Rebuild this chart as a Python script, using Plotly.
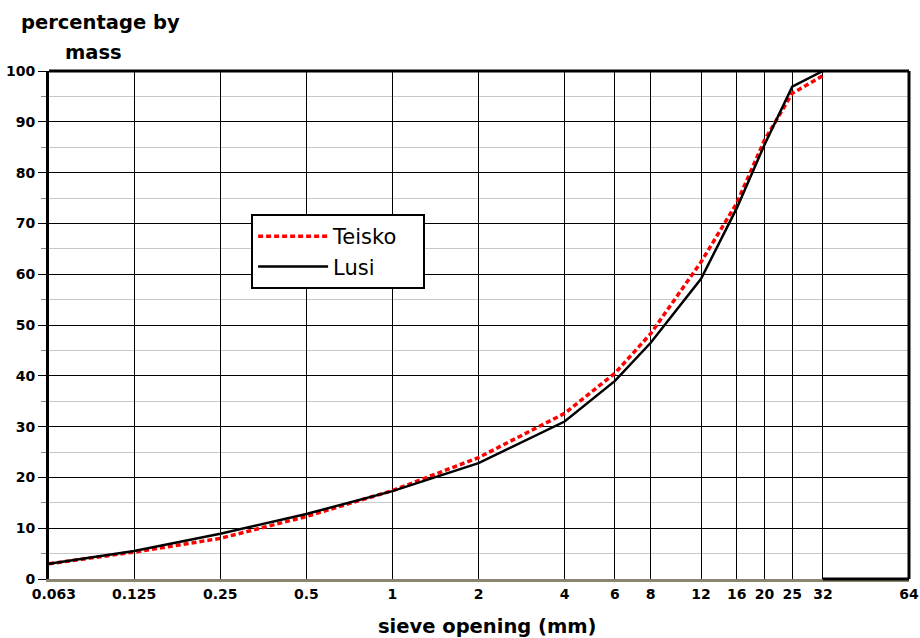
import math
import plotly.graph_objects as go

# ---- data ----
sieve = [0.063, 0.125, 0.25, 0.5, 1, 2, 4, 6, 8, 12, 16, 20, 25, 32]
teisko = [3.0, 5.3, 8.0, 12.3, 17.4, 23.9, 32.6, 40.5, 48.3, 62.4, 74.0, 86.4, 95.6, 99.1]
lusi = [3.0, 5.5, 8.9, 12.8, 17.3, 22.8, 31.0, 39.0, 46.5, 59.1, 73.0, 85.5, 96.9, 100.0]
x_ticks = [0.063, 0.125, 0.25, 0.5, 1, 2, 4, 6, 8, 12, 16, 20, 25, 32, 64]
x_labels = ["\u00a0\u00a00.063", "0.125", "0.25", "0.5", "1", "2", "4", "6", "8", "12", "16", "20", "25", "32", "64"]
y_ticks = list(range(0, 101, 10))

xmin, xmax = 0.063, 64
lx0, lx1 = math.log10(xmin), math.log10(xmax)
eps = 1e-4

fig = go.Figure()
fig.add_trace(go.Scatter(x=sieve, y=teisko, name="Teisko\u00a0\u00a0\u00a0", mode="lines",
                         line=dict(color="#ff0000", width=3.5, dash="5px,3px")))
fig.add_trace(go.Scatter(x=sieve, y=lusi, name="Lusi", mode="lines",
                         line=dict(color="#000000", width=2.5)))

tick_font = dict(family="DejaVu Sans", size=14, color="black", weight="bold")

fig.update_layout(
    width=920, height=638,
    margin=dict(l=49, r=11, t=71, b=59, autoexpand=False),
    paper_bgcolor="white", plot_bgcolor="white",
    showlegend=True,
    legend=dict(x=0.235, y=0.7185, xanchor="left", yanchor="top",
                bgcolor="white", bordercolor="black", borderwidth=2,
                font=dict(family="DejaVu Sans", size=21, color="black"),
                itemwidth=70, tracegroupgap=0),
    xaxis=dict(type="log", range=[lx0 - eps, lx1 + eps],
               tickvals=x_ticks, ticktext=x_labels, tickfont=tick_font,
               ticklabeloverflow="allow", automargin=False,
               showgrid=True, gridcolor="#000000", gridwidth=1,
               showline=True, linecolor="#8a8470", linewidth=3,
               ticks="", zeroline=False),
    yaxis=dict(range=[0, 100], tickvals=y_ticks, tickfont=tick_font,
               automargin=False,
               showgrid=True, gridcolor="#000000", gridwidth=1,
               showline=True, linecolor="#000000", linewidth=3,
               ticks="outside", ticklen=8, tickwidth=1, tickcolor="black",
               minor=dict(dtick=5, showgrid=True, gridcolor="#c8c8c8", gridwidth=1,
                          ticks="outside", ticklen=5, tickcolor="#888888"),
               zeroline=False),
)

# frame: top, right and right part of bottom in black
f32 = (math.log10(32) - (lx0 - eps)) / ((lx1 + eps) - (lx0 - eps))
for (x0, y0, x1, y1) in [(0, 1, 1, 1), (1, 0, 1, 1), (f32, 0, 1, 0)]:
    fig.add_shape(type="line", xref="paper", yref="paper", x0=x0, y0=y0, x1=x1, y1=y1,
                  line=dict(color="black", width=3), layer="above")

pw = 920 - 49 - 11
title_font = dict(family="DejaVu Sans", size=19.5, color="black", weight="bold")
fig.add_annotation(text="percentage by", xref="paper", yref="paper",
                   x=(100 - 49) / pw, y=(579 - 23) / 508, xanchor="center", yanchor="middle",
                   showarrow=False, font=title_font)
fig.add_annotation(text="mass", xref="paper", yref="paper",
                   x=(93 - 49) / pw, y=(579 - 52) / 508, xanchor="center", yanchor="middle",
                   showarrow=False, font=title_font)
fig.add_annotation(text="sieve opening (mm)", xref="paper", yref="paper",
                   x=(487 - 49) / pw, y=(579 - 626) / 508, xanchor="center", yanchor="middle",
                   showarrow=False, font=title_font)

fig.write_html("out.html")
